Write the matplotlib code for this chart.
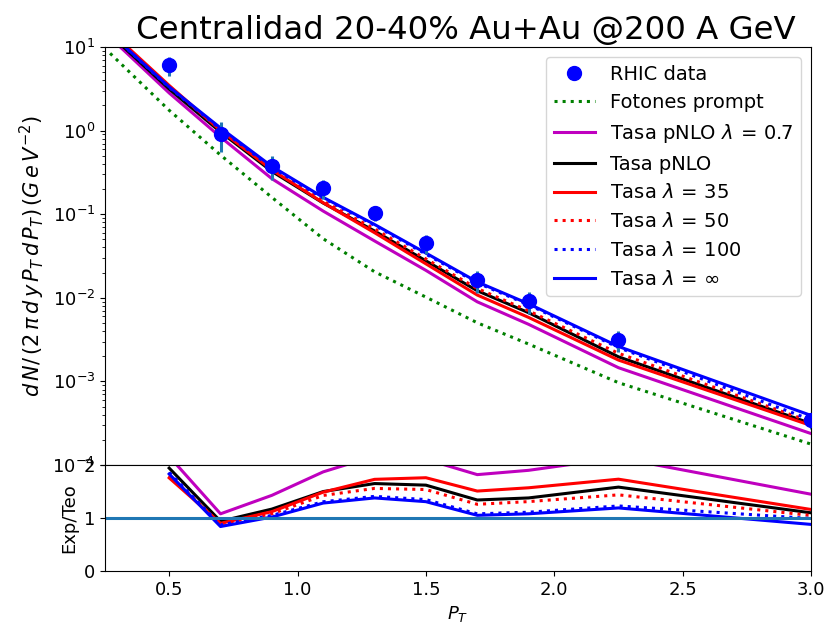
import matplotlib
matplotlib.use("Agg")
import matplotlib.pyplot as plt
import numpy as np

matplotlib.rcParams['font.family'] = 'DejaVu Sans'
matplotlib.rcParams['font.size'] = 13

# RHIC data, centralidad 20-40%
pt_data  = [0.5, 0.7, 0.9, 1.1, 1.3, 1.5, 1.7, 1.9, 2.25, 3.0]
y_data   = [6.1, 0.904, 0.38, 0.204, 0.104, 0.0449, 0.0163, 0.00916, 0.00312, 3.45e-4]
err_data = [1.58, 0.35, 0.12, 0.05, 0.021, 0.011, 0.0048, 0.0027, 0.00084, 7.5e-5]

# curvas teoricas
pt_teo      = [0.27, 0.5, 0.7, 0.9, 1.1, 1.3, 1.5, 1.7, 1.9, 2.25, 3.0]
prompt      = [8.4, 1.75, 0.51, 0.159, 0.0509, 0.0205, 0.0102, 0.00503, 0.0028, 9.66e-4, 1.78e-4]
pnlo_07     = [13.0, 2.82, 0.837, 0.266, 0.109, 0.0479, 0.0213, 0.00896, 0.00482, 0.00146, 2.38e-4]
pnlo        = [14.0, 3.14, 0.962, 0.325, 0.136, 0.063, 0.0277, 0.01216, 0.00664, 0.00197, 3.14e-4]
lam_35      = [15.5, 3.47, 1.004, 0.339, 0.137, 0.0601, 0.0255, 0.0108, 0.00583, 0.0018, 2.97e-4]
lam_50      = [15.0, 3.37, 1.016, 0.352, 0.143, 0.0667, 0.0292, 0.01294, 0.00699, 0.00217, 3.29e-4]
lam_100     = [14.5, 3.28, 1.039, 0.362, 0.156, 0.0738, 0.0333, 0.0151, 0.00825, 0.00254, 3.48e-4]
lam_inf     = [14.6, 3.33, 1.076, 0.373, 0.159, 0.0754, 0.0343, 0.0155, 0.00848, 0.00262, 3.92e-4]


def main():
    fig = plt.figure(figsize=(8.28, 6.31), dpi=100)
    ax1 = fig.add_axes([0.1268, 0.263, 0.8527, 0.6625])
    ax2 = fig.add_axes([0.1268, 0.095, 0.8527, 0.168])

    """
    Top panel
    """
    ax1.errorbar(pt_data, y_data, yerr=err_data, fmt='none', ecolor='C0',
                 elinewidth=2.2, zorder=3)
    l0, = ax1.plot(pt_data, y_data, 'bo', markersize=10, zorder=4)
    l1, = ax1.plot(pt_teo, prompt, ':', color='g', lw=2.2)
    l2, = ax1.plot(pt_teo, pnlo_07, '-', color='m', lw=2.2)
    l3, = ax1.plot(pt_teo, pnlo, '-', color='k', lw=2.2)
    l4, = ax1.plot(pt_teo, lam_35, '-', color='r', lw=2.2)
    l5, = ax1.plot(pt_teo, lam_50, ':', color='r', lw=2.2)
    l6, = ax1.plot(pt_teo, lam_100, ':', color='b', lw=2.2)
    l7, = ax1.plot(pt_teo, lam_inf, '-', color='b', lw=2.2)

    ax1.set_yscale('log')
    ax1.set_xlim([0.25, 3.0])
    ax1.set_ylim([1e-4, 1e1])
    ax1.tick_params(axis='x', bottom=False, labelbottom=False)
    ax1.set_ylabel(r'$d\,N/\,(2\,\pi\,d\,y\,P_T\,d\,P_T)\,(G\,e\,V^{-2})$', fontsize=15)
    ax1.set_title('Centralidad 20-40% Au+Au @200 A GeV', fontsize=23.3, x=0.511)
    ax1.legend([l0, l1, l2, l3, l4, l5, l6, l7],
               ['RHIC data', 'Fotones prompt', r'Tasa pNLO $\lambda\,=\,0.7$',
                'Tasa pNLO', r'Tasa $\lambda\,=\,35$', r'Tasa $\lambda\,=\,50$',
                r'Tasa $\lambda\,=\,100$', r'Tasa $\lambda\,=\,\infty$'],
               loc='upper right', numpoints=1, fontsize=14, handlelength=2.1)

    """
    Ratio panel
    """
    d = np.array(y_data)
    for teo, st, c in [(pnlo_07, '-', 'm'), (pnlo, '-', 'k'), (lam_35, '-', 'r'),
                       (lam_50, ':', 'r'), (lam_100, ':', 'b'), (lam_inf, '-', 'b')]:
        ax2.plot(pt_data, d / np.array(teo[1:]), st, color=c, lw=2.2)
    ax2.axhline(1.0, color='C0', lw=2.2)
    ax2.set_xlim([0.25, 3.0])
    ax2.set_ylim([0, 2])
    ax2.set_yticks([0, 1, 2])
    ax2.set_xlabel(r'$P_T$')
    ax2.set_ylabel('Exp/Teo')

    plt.savefig("out.png", dpi=100)
    plt.close()


if __name__ == '__main__':
    main()
